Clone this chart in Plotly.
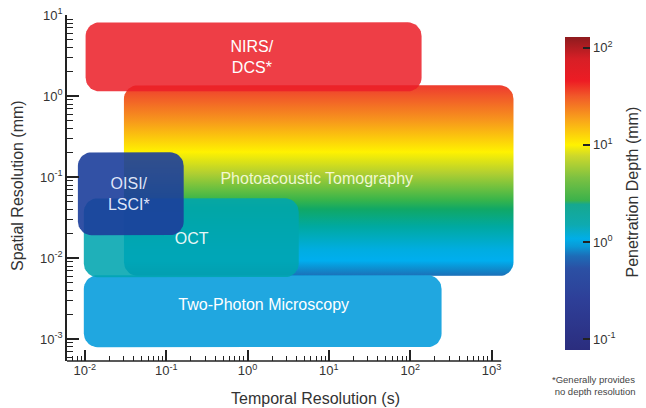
import numpy as np
import plotly.graph_objects as go

# ---------------- data ----------------
techniques = ["Photoacoustic Tomography", "NIRS/DCS", "Two-Photon Microscopy", "OCT", "OISI/LSCI"]
labels = ["Photoacoustic Tomography", "NIRS/<br>DCS*", "Two-Photon Microscopy", "OCT", "OISI/<br>LSCI*"]
# temporal resolution extent (s)
t_min = [0.0302, 0.0102, 0.0097, 0.0097, 0.0082]
t_max = [1862.0, 138.0, 243.0, 4.26, 0.164]
# spatial resolution extent (mm)
s_min = [0.00603, 1.15, 0.000796, 0.00582, 0.0192]
s_max = [1.37, 8.2, 0.00617, 0.0551, 0.204]
# label anchor positions
label_t = [7.1, 1.13, 1.58, 0.206, 0.0347]
label_s = [0.092, 2.9, 0.00255, 0.0167, 0.06]

x_tickvals = [0.01, 0.1, 1, 10, 100, 1000]
x_ticktext = ["10<sup>-2</sup>", "10<sup>-1</sup>", "10<sup>0</sup>", "10<sup>1</sup>", "10<sup>2</sup>", "10<sup>3</sup>"]
y_tickvals = [0.001, 0.01, 0.1, 1, 10]
y_ticktext = ["10<sup>-3</sup>", "10<sup>-2</sup>", "10<sup>-1</sup>", "10<sup>0</sup>", "10<sup>1</sup>"]
cb_tickvals = [-1, 0, 1, 2]
cb_ticktext = ["10<sup>-1</sup>", "10<sup>0</sup>", "10<sup>1</sup>", "10<sup>2</sup>"]

# ---------------- styles ----------------
FONT = "Liberation Sans, Arial, sans-serif"
fills = [None,
         "rgba(235,30,40,0.86)",
         "rgba(15,160,222,0.93)",
         "rgba(0,165,175,0.88)",
         "rgba(28,62,155,0.90)"]
text_colors = ["rgba(255,255,230,0.88)", "white", "white", "rgba(255,255,255,0.92)", "rgba(235,240,255,0.95)"]
pat_scale = [[0, '#1c6fb8'], [0.04, '#0d8fd0'], [0.08, '#00aeef'], [0.14, '#00ade0'],
             [0.26, '#00a9a0'], [0.35, '#10a866'], [0.40, '#39b54a'], [0.54, '#b2cf31'],
             [0.65, '#fff200'], [0.82, '#f7941d'], [1.0, '#ee3b2f']]
cb_scale = [[0.0, '#2b2d7e'], [0.16, '#2e3f98'], [0.26, '#2b50a4'], [0.30, '#1d6cb7'],
            [0.33, '#0a98d6'], [0.355, '#00aee8'], [0.40, '#0eaab0'], [0.465, '#16a88f'],
            [0.478, '#3cb24b'], [0.55, '#7cc142'], [0.62, '#cdd82b'], [0.655, '#fff200'],
            [0.735, '#f9a51a'], [0.81, '#f15a29'], [0.86, '#ed1c24'], [0.93, '#d71f26'],
            [1.0, '#8e1b1e']]

X_RANGE = [-2.22, 3.35]
X_AXIS_END = 3.12
Y_RANGE = [-3.27, 1.004]
R = 0.17  # corner radius in decades
W, H = 646, 408
PL, PW, PT, PH = 67, 453.4, 15, 346  # plot area in page pixels


def px(x):
    return (x - PL) / PW


def py(y):
    return (PT + PH - y) / PH


def rounded_rect(x0, x1, y0, y1, r=R, n=10):
    lx0, lx1, ly0, ly1 = np.log10(x0), np.log10(x1), np.log10(y0), np.log10(y1)
    pts = []
    corners = [(lx1 - r, ly1 - r, 0), (lx0 + r, ly1 - r, 90),
               (lx0 + r, ly0 + r, 180), (lx1 - r, ly0 + r, 270)]
    for cx, cy, a0 in corners:
        for a in np.linspace(a0, a0 + 90, n):
            t = np.radians(a)
            pts.append((cx + r * np.cos(t), cy + r * np.sin(t)))
    pts.append(pts[0])
    xs = [10 ** p[0] for p in pts]
    ys = [10 ** p[1] for p in pts]
    return xs, ys


fig = go.Figure()
for i, name in enumerate(techniques):
    xs, ys = rounded_rect(t_min[i], t_max[i], s_min[i], s_max[i])
    if i == 0:
        fig.add_trace(go.Scatter(x=xs, y=ys, mode="lines", fill="toself", line=dict(width=0),
                                 fillgradient=dict(type="vertical", colorscale=pat_scale),
                                 name=name, hoverinfo="skip"))
    else:
        fig.add_trace(go.Scatter(x=xs, y=ys, mode="lines", fill="toself", line=dict(width=0),
                                 fillcolor=fills[i], name=name, hoverinfo="skip"))

for i, name in enumerate(techniques):
    fig.add_trace(go.Scatter(x=[label_t[i]], y=[label_s[i]], mode="text", text=[labels[i]],
                             textfont=dict(family=FONT, size=16, color=text_colors[i]),
                             textposition="middle center", hoverinfo="skip", name=name + " label"))

# colorbar carrier
fig.add_trace(go.Scatter(
    x=[0.1], y=[0.1], mode="markers", hoverinfo="skip",
    marker=dict(size=1, opacity=0, color=[-1], colorscale=cb_scale, cmin=-1.11, cmax=2.11,
                showscale=True,
                colorbar=dict(x=px(565), xanchor="left", xpad=0,
                              y=py(193.5), yanchor="middle", ypad=0,
                              len=313, lenmode="pixels", thickness=25, outlinewidth=0,
                              ticks="inside", ticklen=7, tickwidth=1.5, tickcolor="#222",
                              tickvals=cb_tickvals, ticktext=cb_ticktext,
                              tickfont=dict(family=FONT, size=13, color="#333")))))

minor_x = [m * 10.0 ** e for e in range(-3, 3) for m in range(2, 10)
           if X_RANGE[0] <= np.log10(m * 10.0 ** e) <= X_AXIS_END]
minor_y = [m * 10.0 ** e for e in range(-4, 1) for m in range(2, 10)
           if Y_RANGE[0] <= np.log10(m * 10.0 ** e) <= Y_RANGE[1]]

fig.update_xaxes(type="log", range=X_RANGE, showline=False, showgrid=False, zeroline=False,
                 automargin=False, ticklabeloverflow="allow",
                 ticks="inside", ticklen=11, tickwidth=1.5, tickcolor="#222",
                 tickvals=x_tickvals, ticktext=x_ticktext,
                 tickfont=dict(family=FONT, size=13, color="#333"),
                 minor=dict(tickmode="array", tickvals=minor_x, ticks="inside", ticklen=5,
                            tickwidth=1, tickcolor="#222", showgrid=False))
fig.update_yaxes(type="log", range=Y_RANGE, showline=True, linewidth=1.5, linecolor="#222",
                 showgrid=False, zeroline=False, automargin=False, ticklabeloverflow="allow",
                 ticks="inside", ticklen=12, tickwidth=1.5, tickcolor="#222",
                 tickvals=y_tickvals, ticktext=y_ticktext,
                 tickfont=dict(family=FONT, size=13, color="#333"),
                 minor=dict(tickmode="array", tickvals=minor_y, ticks="inside", ticklen=6,
                            tickwidth=1, tickcolor="#222", showgrid=False))

# x axis line ends a little past 10^3
fig.add_shape(type="line", xref="x", yref="paper", x0=10 ** X_RANGE[0], x1=10 ** X_AXIS_END,
              y0=0, y1=0, line=dict(color="#222", width=1.5))

title_font = dict(family=FONT, size=16, color="#333")
fig.add_annotation(text="Temporal Resolution (s)", xref="paper", yref="paper",
                   x=px(316), y=py(398), xanchor="center", yanchor="middle",
                   showarrow=False, font=title_font)
fig.add_annotation(text="Spatial Resolution (mm)", xref="paper", yref="paper",
                   x=px(18), y=py(186), xanchor="center", yanchor="middle", textangle=-90,
                   showarrow=False, font=title_font)
fig.add_annotation(text="Penetration Depth (mm)", xref="paper", yref="paper",
                   x=px(632), y=py(192), xanchor="center", yanchor="middle", textangle=-90,
                   showarrow=False, font=title_font)
fig.add_annotation(text="*Generally provides<br> no depth resolution", xref="paper", yref="paper",
                   x=px(550), y=py(372), xanchor="left", yanchor="top",
                   align="left", showarrow=False,
                   font=dict(family=FONT, size=9.5, color="#444"))

fig.update_layout(width=W, height=H,
                  margin=dict(l=PL, r=W - PL - PW, t=PT, b=H - PT - PH, autoexpand=False),
                  plot_bgcolor="white", paper_bgcolor="white", showlegend=False)

fig.write_html("out.html", config={"displayModeBar": False},
               post_script="document.body.style.margin='0px';")
